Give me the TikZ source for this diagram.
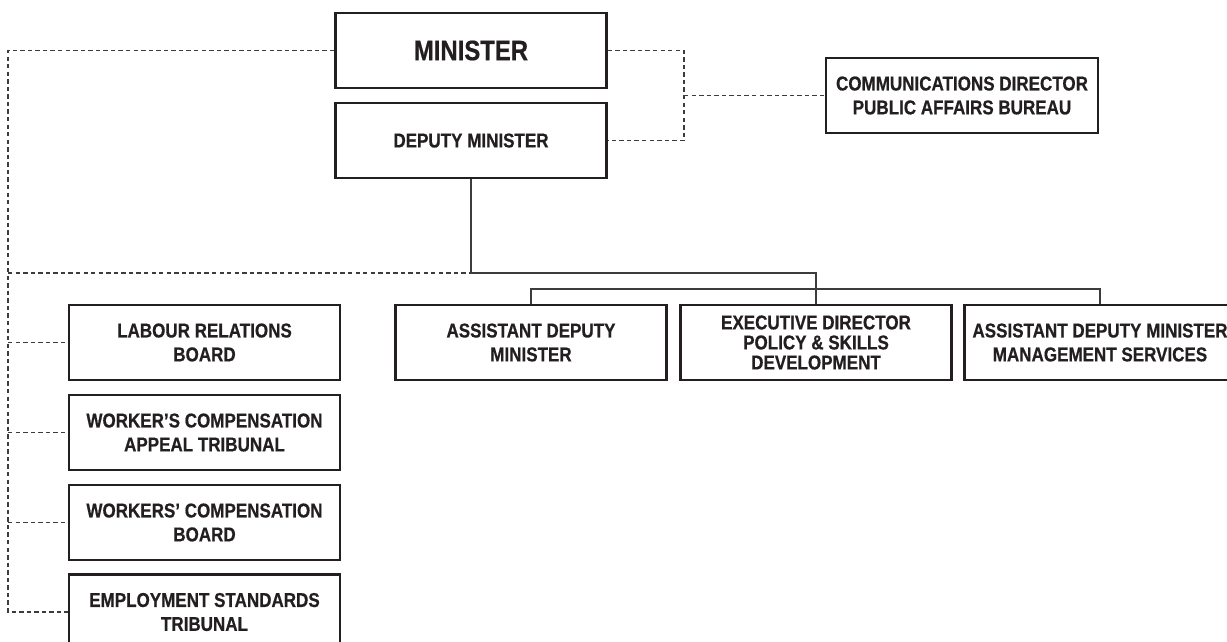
\documentclass[tikz,border=0pt]{standalone}
\usepackage{fontspec}
\setmainfont{Liberation Sans}[FakeStretch=0.85, FakeBold=0.6]
\usetikzlibrary{positioning, calc}

\definecolor{inkgray}{RGB}{35, 31, 32}
\definecolor{linegray}{RGB}{60, 60, 60}

\tikzset{
  orgbox/.style={draw=inkgray, line width=1.3pt, minimum width=5.42cm, minimum height=1.5cm,
    align=center, inner sep=0pt, text=inkgray, font=\bfseries\fontsize{11.4}{13.6}\selectfont},
  solidlink/.style={draw=linegray, line width=0.65pt},
  dashlink/.style={draw=linegray, line width=0.65pt, dash pattern=on 2.5pt off 1.8pt},
}

\begin{document}
\begin{tikzpicture}[x=0.02cm, y=-0.02cm]
  \useasboundingbox (0,0) rectangle (1227,642);

  % top of the ministry
  \node[orgbox, font=\bfseries\fontsize{16}{19}\selectfont] (minister) at (471,50.5) {MINISTER};
  \node[orgbox] (deputy) at (471,140.5) {DEPUTY MINISTER};
  \node[orgbox, minimum width=5.44cm] (comms) at (962,95.5) {COMMUNICATIONS DIRECTOR\\PUBLIC AFFAIRS BUREAU};

  % divisions under the deputy
  \node[orgbox] (adm) at (531,342.5) {ASSISTANT DEPUTY\\MINISTER};
  \node[orgbox, font=\bfseries\fontsize{11.4}{11.4}\selectfont] (exec) at (816,342.5) {EXECUTIVE DIRECTOR\\POLICY \& SKILLS\\DEVELOPMENT};
  \node[orgbox] (admms) at (1100,342.5) {ASSISTANT DEPUTY MINISTER\\MANAGEMENT SERVICES};

  % boards and tribunals
  \node[orgbox] (lrb) at (204.5,342.5) {LABOUR RELATIONS\\BOARD};
  \node[orgbox] (wcat) at (204.5,432.5) {WORKER'S COMPENSATION\\APPEAL TRIBUNAL};
  \node[orgbox] (wcb) at (204.5,522.5) {WORKERS' COMPENSATION\\BOARD};
  \node[orgbox] (est) at (204.5,612) {EMPLOYMENT STANDARDS\\TRIBUNAL};

  \coordinate (hub) at (471,273);
  \coordinate (bus) at (0,289);
  \coordinate (lrail) at (8,0);
  \coordinate (rrail) at (684,0);

  % reporting lines
  \draw[solidlink] (deputy.south) -- (hub) -| (exec.north);
  \draw[solidlink] (adm.north) |- (bus -| admms.north) -- (admms.north);

  % dotted relations on the left
  \draw[dashlink] (minister.west) -| (lrail |- est.west) -- (est.west);
  \draw[dashlink] (lrail |- hub) -- (hub);
  \foreach \n in {lrb, wcat, wcb}
    \draw[dashlink] (lrail |- \n.west) -- (\n.west);

  % dotted relations on the right
  \draw[dashlink] (minister.east) -| (rrail |- deputy.east) -- (deputy.east);
  \draw[dashlink] (rrail |- comms.west) -- (comms.west);
\end{tikzpicture}
\end{document}
